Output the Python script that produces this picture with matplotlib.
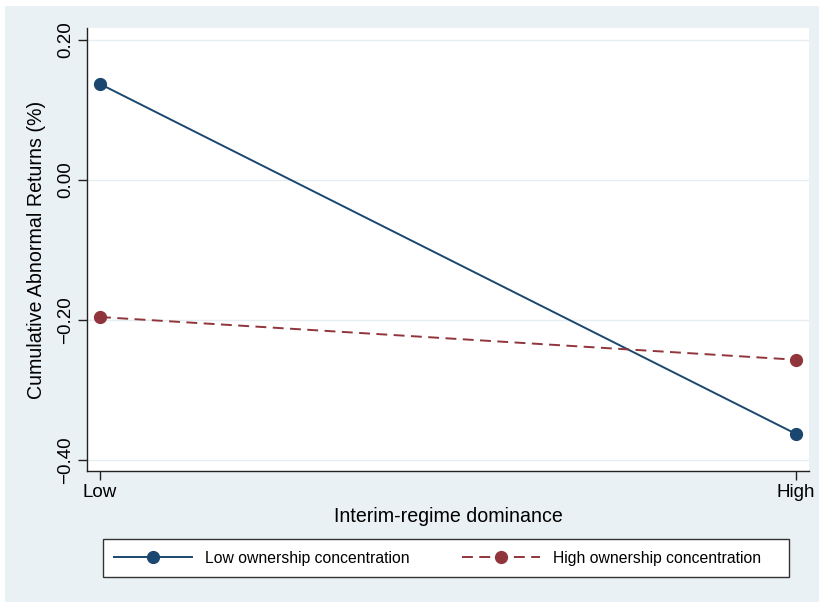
import matplotlib
matplotlib.use('Agg')
import matplotlib.pyplot as plt
from matplotlib.patches import Rectangle

plt.rcParams['font.family'] = ['Liberation Sans', 'DejaVu Sans']

# data
x_labels = ['Low', 'High']
x_pos = [0, 1]
low_conc = [0.137, -0.363]
high_conc = [-0.196, -0.257]
y_ticks = [0.20, 0.00, -0.20, -0.40]

bg = '#EAF1F4'
navy = '#1A476F'
maroon = '#90353B'

W, H = 819, 602
fig = plt.figure(figsize=(W / 100, H / 100), dpi=100, facecolor='white')
# stata style outer region
fig.patches.append(Rectangle((5 / W, 0), 1 - 5 / W, 1 - 6 / H, transform=fig.transFigure,
                             facecolor=bg, edgecolor='none', zorder=-10))

ax = fig.add_axes([87 / W, 1 - 471 / H, (809 - 87) / W, (471 - 28) / H])
ax.set_facecolor('white')

ax.plot(x_pos, low_conc, color=navy, lw=1.4, marker='o', ms=8.5,
        label='Low ownership concentration', zorder=3)
ax.plot(x_pos, high_conc, color=maroon, lw=1.4, ls=(0, (5.6, 3.3)), marker='o', ms=8.5,
        label='High ownership concentration', zorder=3)

ax.set_xlim(-0.0187, 1.0187)
ax.set_ylim(-0.416, 0.217)
ax.set_xticks(x_pos)
ax.set_xticklabels(x_labels)
ax.set_yticks(y_ticks)
ax.set_yticklabels([('%.2f' % v).replace('-', '\u2212') for v in y_ticks],
                   rotation=90, va='center')
ax.yaxis.grid(True, color='#E6EEF1', lw=1)
ax.set_axisbelow(True)

for s in ['top', 'right']:
    ax.spines[s].set_visible(False)
for s in ['left', 'bottom']:
    ax.spines[s].set_color('#222222')
    ax.spines[s].set_linewidth(1)
ax.tick_params(direction='out', length=6.5, width=1, color='#222222',
               labelsize=13.5, pad=3)

ax.set_xlabel('Interim-regime dominance', fontsize=14.1, labelpad=4)
ax.set_ylabel('Cumulative Abnormal Returns (%)', fontsize=14.1, labelpad=8)

# legend box
fig.patches.append(Rectangle((103 / W, 1 - 577 / H), (789 - 103) / W, (577 - 539) / H,
                             transform=fig.transFigure, facecolor='white',
                             edgecolor='#333333', lw=1, zorder=1))
leg = fig.legend(loc='center left', bbox_to_anchor=(114 / W, 1 - 558 / H), ncol=2,
                 frameon=False, fontsize=11.3, handlelength=5.0, handletextpad=0.83,
                 columnspacing=3.3, borderpad=0, borderaxespad=0)
leg.set_zorder(2)

fig.savefig('out.png', dpi=100, facecolor=fig.get_facecolor())
